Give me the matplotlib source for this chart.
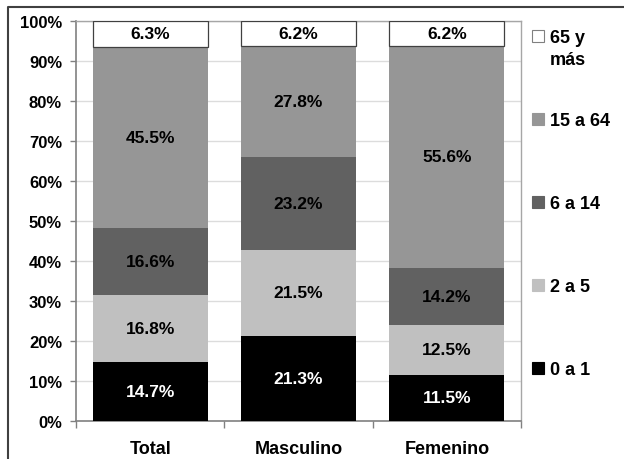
import matplotlib
matplotlib.use("Agg")
import matplotlib.pyplot as plt
from matplotlib.patches import Rectangle
from matplotlib.lines import Line2D
import numpy as np

plt.rcParams['font.family'] = ['Liberation Sans', 'DejaVu Sans']
plt.rcParams['font.weight'] = 'bold'

# Population share by age group (%)
categories = ['Total', 'Masculino', 'Femenino']
group_labels = ['0 a 1', '2 a 5', '6 a 14', '15 a 64', '65 y\nmás']
age_0_1 = [14.7, 21.3, 11.5]
age_2_5 = [16.8, 21.5, 12.5]
age_6_14 = [16.6, 23.2, 14.2]
age_15_64 = [45.5, 27.8, 55.6]
age_65_plus = [6.3, 6.2, 6.2]
y_ticks = [0, 10, 20, 30, 40, 50, 60, 70, 80, 90, 100]

series = [age_0_1, age_2_5, age_6_14, age_15_64, age_65_plus]
colors = ['#000000', '#c0c0c0', '#616161', '#969696', '#ffffff']
text_colors = ['white', 'black', 'black', 'black', 'black']

W, H = 624, 460
fig = plt.figure(figsize=(W / 100, H / 100), dpi=100)
ax = fig.add_axes([76 / W, 1 - 421.7 / H, (521 - 76) / W, (421.7 - 22) / H])

x = np.arange(len(categories))
bottom = np.zeros(len(categories))
for vals, col, tcol in zip(series, colors, text_colors):
    vals = np.array(vals)
    edge = '#404040' if col == '#ffffff' else col
    bars = ax.bar(x, vals, width=0.776, bottom=bottom, color=col,
                  edgecolor=edge, linewidth=0.9 if col == '#ffffff' else 0,
                  zorder=3)
    ax.bar_label(bars, labels=[f'{v:.1f}%' for v in vals], label_type='center',
                 color=tcol, fontsize=12.5, fontweight='bold', zorder=4)
    bottom += vals

ax.set_xlim(-0.5, len(categories) - 0.5)
ax.set_ylim(0, 100)
ax.set_yticks(y_ticks)
ax.set_yticklabels([f'{t}%' for t in y_ticks], fontsize=12, fontweight='bold')
ax.set_xticks(x)
ax.set_xticklabels(categories, fontsize=13, fontweight='bold')
ax.set_xticks(np.arange(-0.5, len(categories)), minor=True)
ax.tick_params(axis='x', which='major', length=0, pad=14)
ax.tick_params(axis='x', which='minor', length=5, color='#808080', width=1)
ax.tick_params(axis='y', length=4, color='#808080', width=1, pad=6)

ax.grid(axis='y', color='#dcdcdc', linewidth=1, zorder=0)
ax.set_axisbelow(True)
for side in ['left', 'bottom']:
    ax.spines[side].set_color('#808080')
    ax.spines[side].set_linewidth(1.2)
for side in ['top', 'right']:
    ax.spines[side].set_color('#a6a6a6')
    ax.spines[side].set_linewidth(1)

# Legend, listed from the oldest group at the top
for i, (lab, col) in enumerate(zip(group_labels[::-1], colors[::-1])):
    yc = 36.5 + i * 83.0
    fig.patches.append(Rectangle((532 / W, 1 - (yc + 6) / H), 12 / W, 12 / H,
                                 transform=fig.transFigure, facecolor=col,
                                 edgecolor='#808080' if col == '#ffffff' else col,
                                 linewidth=0.8))
    for j, line in enumerate(lab.split('\n')):
        fig.text(550 / W, 1 - (yc + 6.5 + j * 22) / H, line, fontsize=13,
                 fontweight='bold', ha='left', va='baseline')

# Outer frame
fig.add_artist(Line2D([8 / W, 8 / W, 1.0], [0.0, 1 - 8 / H, 1 - 8 / H],
                      transform=fig.transFigure, color='#404040', linewidth=1.5))

fig.savefig('out.png', dpi=100)
